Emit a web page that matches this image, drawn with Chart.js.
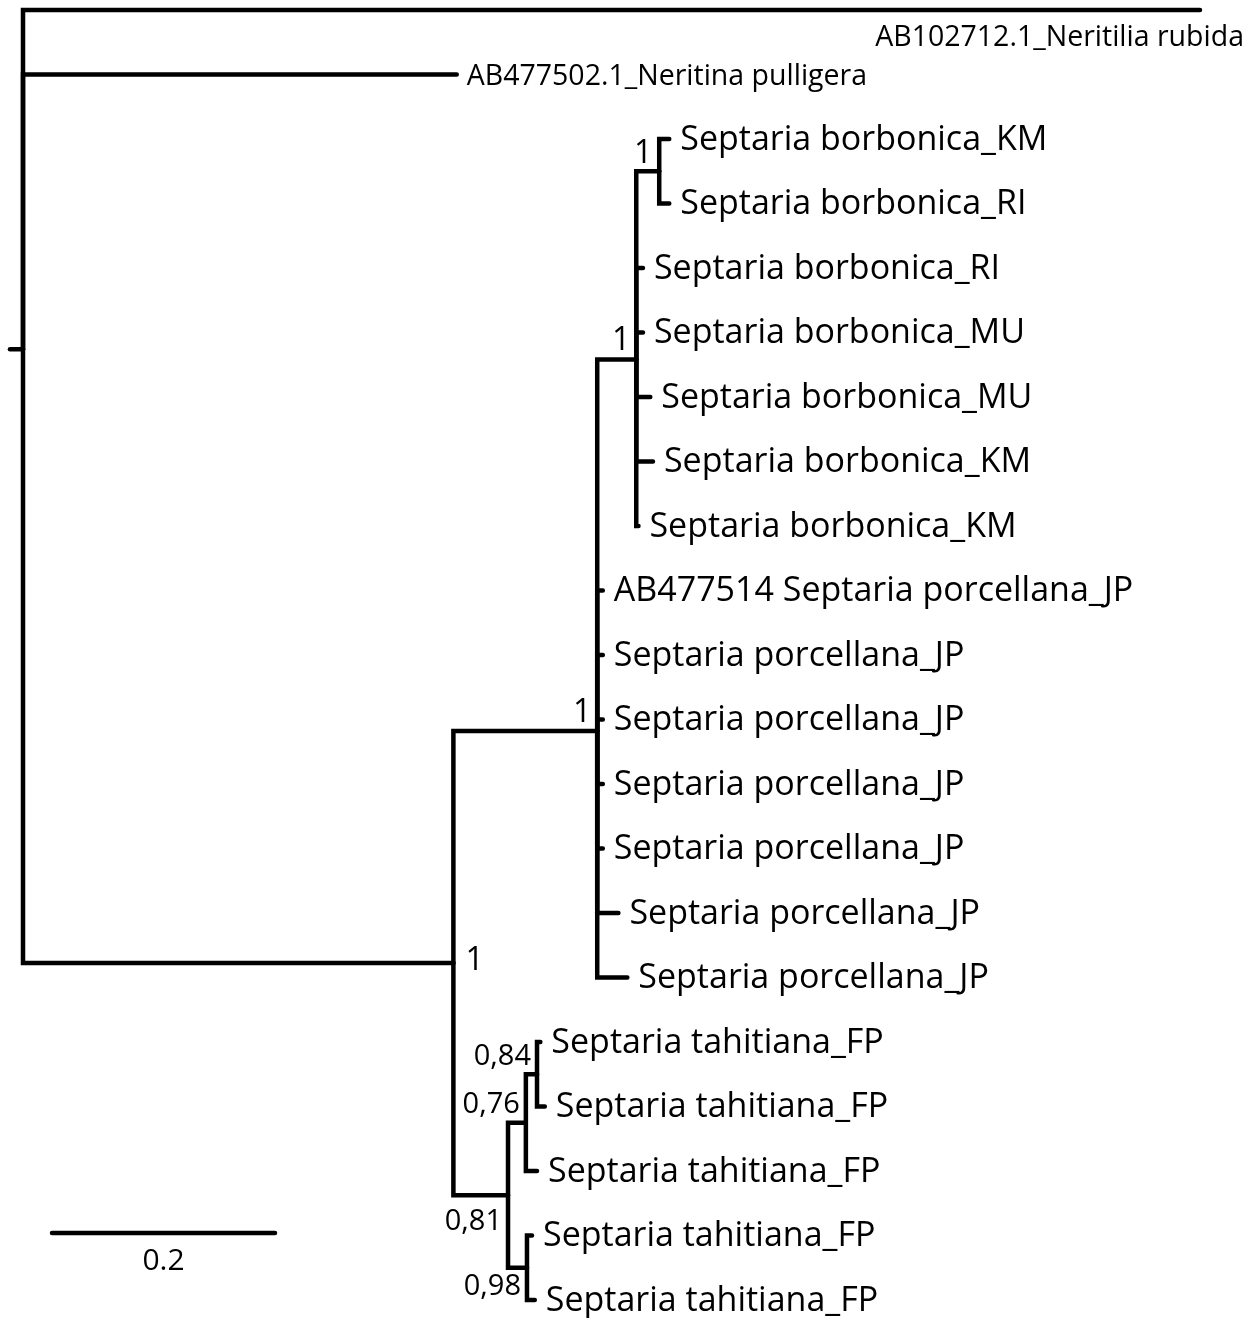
<!DOCTYPE html>
<html lang="en">
  <head>
    <meta charset="UTF-8" />
    <title>Septaria tree</title>
    <script src="https://cdn.jsdelivr.net/npm/chart.js"></script>
    <style>
      body { margin: 0; background: #fff; }
    </style>
  </head>
  <body>
    <canvas id="treeChart" width="1257" height="1318"></canvas>
    <script>
      // leaves, top to bottom
      const leafNames = [
        "AB102712.1_Neritilia rubida",
        "AB477502.1_Neritina pulligera",
        "Septaria borbonica_KM",
        "Septaria borbonica_RI",
        "Septaria borbonica_RI",
        "Septaria borbonica_MU",
        "Septaria borbonica_MU",
        "Septaria borbonica_KM",
        "Septaria borbonica_KM",
        "AB477514 Septaria porcellana_JP",
        "Septaria porcellana_JP",
        "Septaria porcellana_JP",
        "Septaria porcellana_JP",
        "Septaria porcellana_JP",
        "Septaria porcellana_JP",
        "Septaria porcellana_JP",
        "Septaria tahitiana_FP",
        "Septaria tahitiana_FP",
        "Septaria tahitiana_FP",
        "Septaria tahitiana_FP",
        "Septaria tahitiana_FP",
      ];
      const leafParent = [0, 0, 4, 4, 3, 3, 3, 3, 3, 2, 2, 2, 2, 2, 2, 2, 7, 7, 6, 8, 8];
      const leafLength = [1.0556, 0.389, 0.009, 0.009, 0.006, 0.006, 0.0126, 0.015, 0.002,
        0.005, 0.005, 0.005, 0.005, 0.005, 0.019, 0.027, 0.003, 0.007, 0.010, 0.0045, 0.007];

      // internal nodes (0 = root)
      const nodeParent = [null, 0, 1, 2, 3, 1, 5, 6, 5];
      const nodeLength = [0.0117, 0.386, 0.129, 0.035, 0.0206, 0.049, 0.016, 0.01, 0.017];
      const nodeSupport = ["", "1", "1", "1", "1", "0,81", "0,76", "0,84", "0,98"];

      const scaleBarValue = 0.2;
      const scaleBarLabel = "0.2";

      // ---- layout of the tree from the arrays
      const nodeX = [];
      nodeParent.forEach((p, i) => {
        nodeX[i] = p === null ? 0 : nodeX[p] + nodeLength[i];
      });
      const leafX = leafParent.map((p, i) => nodeX[p] + leafLength[i]);

      const kids = nodeParent.map(() => []);
      leafParent.forEach((p, i) => kids[p].push({ leaf: true, i }));
      nodeParent.forEach((p, i) => { if (p !== null) kids[p].push({ leaf: false, i }); });
      const nodeY = [];
      const getY = (k) => (k.leaf ? k.i : calcNodeY(k.i));
      function calcNodeY(n) {
        if (nodeY[n] === undefined) {
          const ys = kids[n].map(getY);
          nodeY[n] = ys.reduce((a, b) => a + b, 0) / ys.length;
        }
        return nodeY[n];
      }
      nodeParent.forEach((p, i) => calcNodeY(i));

      const pxPerUnit = 1115;
      const rootPx = 23;
      const rowPx = 64.5;
      const topPx = 10;
      const W = 1257, H = 1318;

      const lineStyle = {
        borderColor: "#000",
        borderWidth: 4.5,
        pointRadius: 0,
        showLine: true,
        borderCapStyle: "round",
        borderJoinStyle: "miter",
        tension: 0,
        clip: false,
      };

      const datasets = [];
      // elbows for each child
      leafParent.forEach((p, i) => {
        datasets.push({ ...lineStyle, data: [
          { x: nodeX[p], y: nodeY[p] }, { x: nodeX[p], y: i }, { x: leafX[i], y: i }] });
      });
      nodeParent.forEach((p, i) => {
        if (p === null) return;
        datasets.push({ ...lineStyle, data: [
          { x: nodeX[p], y: nodeY[p] }, { x: nodeX[p], y: nodeY[i] }, { x: nodeX[i], y: nodeY[i] }] });
      });
      // root stub
      datasets.push({ ...lineStyle, data: [{ x: -nodeLength[0], y: nodeY[0] }, { x: 0, y: nodeY[0] }] });
      // scale bar
      const barStart = (52 - rootPx) / pxPerUnit;
      const barRow = (1233 - topPx) / rowPx;
      datasets.push({ ...lineStyle, data: [{ x: barStart, y: barRow }, { x: barStart + scaleBarValue, y: barRow }] });

      const labelPlugin = {
        id: "treeLabels",
        afterDatasetsDraw(chart) {
          const ctx = chart.ctx;
          const xs = chart.scales.x, ys = chart.scales.y;
          ctx.save();
          ctx.fillStyle = "#000";
          ctx.textBaseline = "middle";
          leafNames.forEach((name, i) => {
            const px = xs.getPixelForValue(leafX[i]);
            const py = ys.getPixelForValue(i);
            if (i === 0) {
              ctx.font = '28.5px "Open Sans"';
              ctx.textAlign = "right";
              ctx.fillText(name, chart.width - 13, py + 28);
            } else if (i === 1) {
              ctx.font = '28.5px "Open Sans"';
              ctx.textAlign = "left";
              ctx.fillText(name, px + 10, py + 2);
            } else {
              ctx.font = '34px "Open Sans"';
              ctx.textAlign = "left";
              ctx.fillText(name, px + 11, py + 1);
            }
          });
          // support values
          nodeSupport.forEach((s, n) => {
            if (!s) return;
            const px = xs.getPixelForValue(nodeX[n]);
            const py = ys.getPixelForValue(nodeY[n]);
            ctx.font = s === "1" ? '32px "Open Sans"' : '29px "Open Sans"';
            ctx.textAlign = "right";
            if (n === 1) {
              ctx.textAlign = "left";
              ctx.fillText(s, px + 12, py - 2);
            } else if (n === 5) {
              ctx.fillText(s, px - 6, py + 27);
            } else if (n === 8) {
              ctx.fillText(s, px - 6, py + 19);
            } else if (n === 4) {
              ctx.fillText(s, px - 7, py - 17);
            } else {
              ctx.fillText(s, px - 6, py - 18);
            }
          });
          // scale bar label
          ctx.font = '30px "Open Sans"';
          ctx.textAlign = "center";
          ctx.fillText(scaleBarLabel, xs.getPixelForValue(barStart + scaleBarValue / 2), ys.getPixelForValue(barRow) + 28);
          ctx.restore();
        },
      };

      const treeChart = new Chart(document.getElementById("treeChart"), {
        type: "scatter",
        data: { datasets },
        options: {
          responsive: false,
          animation: false,
          layout: { padding: 0 },
          plugins: { legend: { display: false }, tooltip: { enabled: false } },
          scales: {
            x: { type: "linear", display: false, min: -rootPx / pxPerUnit, max: (W - rootPx) / pxPerUnit },
            y: { type: "linear", display: false, reverse: true, min: -topPx / rowPx, max: (H - topPx) / rowPx },
          },
        },
        plugins: [labelPlugin],
      });
    </script>
  </body>
</html>
